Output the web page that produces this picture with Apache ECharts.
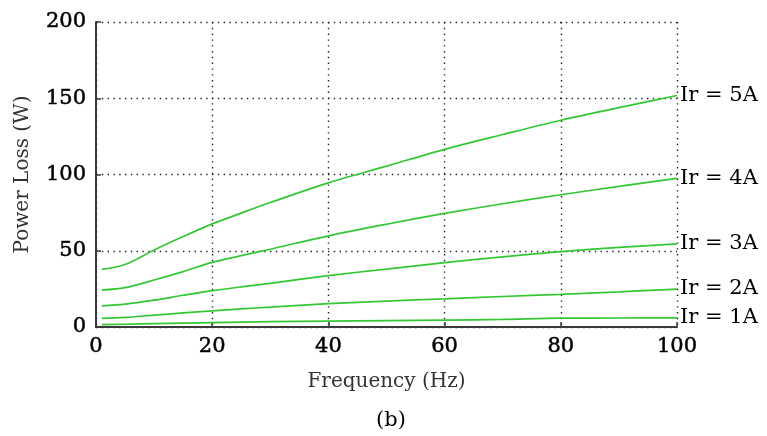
<!DOCTYPE html>
<html>
<head>
<meta charset="utf-8">
<script src="https://cdn.jsdelivr.net/npm/echarts@6/dist/echarts.min.js"></script>
<style>
html,body{margin:0;padding:0;background:#fff;}
#chart{width:767px;height:436px;}
</style>
</head>
<body>
<div id="chart"></div>
<script>
// Frequency (Hz)
const freq = [1, 5, 10, 15, 20, 25, 30, 40, 50, 60, 70, 80, 90, 100];
// Power loss (W) per rotor current
const loss5A = [37.8, 41.0, 50.5, 59.3, 67.6, 74.7, 81.6, 94.5, 105.5, 116.5, 126.2, 135.6, 143.8, 151.8];
const loss4A = [24.2, 25.8, 30.8, 36.3, 42.4, 46.8, 51.0, 59.8, 67.4, 74.5, 80.8, 86.7, 92.2, 97.4];
const loss3A = [13.9, 15.0, 17.6, 20.8, 23.8, 26.3, 28.6, 33.7, 38.0, 42.2, 46.0, 49.4, 52.2, 54.5];
const loss2A = [5.6, 6.3, 7.8, 9.2, 10.6, 11.9, 13.0, 15.3, 17.0, 18.5, 20.0, 21.4, 23.0, 24.9];
const loss1A = [1.6, 1.8, 2.2, 2.6, 2.9, 3.2, 3.5, 3.9, 4.2, 4.5, 5.0, 5.8, 5.9, 6.0];
const seriesNames = ['Ir = 5A', 'Ir = 4A', 'Ir = 3A', 'Ir = 2A', 'Ir = 1A'];
const seriesValues = [loss5A, loss4A, loss3A, loss2A, loss1A];
const xTicks = [0, 20, 40, 60, 80, 100];
const yTicks = [0, 50, 100, 150, 200];

const FONT = 'DejaVu Serif';
const chart = echarts.init(document.getElementById('chart'));
const series = seriesNames.map((name, i) => ({
  name: name,
  type: 'line',
  data: freq.map((f, j) => [f, seriesValues[i][j]]),
  showSymbol: false,
  smooth: 0.3,
  lineStyle: {color: '#33c833', width: 1.7},
  itemStyle: {color: '#33c833'},
  endLabel: {
    show: true,
    formatter: name,
    color: '#000',
    fontFamily: FONT,
    fontSize: 21,
    distance: 3
  },
  emphasis: {disabled: true},
  z: 3
}));

chart.setOption({
  animation: false,
  backgroundColor: '#fff',
  grid: {left: 96, right: 90, top: 22, bottom: 109, containLabel: false},
  xAxis: {
    type: 'value',
    min: xTicks[0],
    max: xTicks[xTicks.length - 1],
    interval: 20,
    name: 'Frequency (Hz)',
    nameLocation: 'middle',
    nameGap: 45,
    nameTextStyle: {fontFamily: FONT, fontSize: 20, color: '#333'},
    axisLine: {show: true, onZero: false, lineStyle: {color: '#3a3a3a', width: 2}},
    axisTick: {show: true, inside: true, length: 5, lineStyle: {color: '#3a3a3a', width: 1.5}},
    axisLabel: {fontFamily: FONT, fontSize: 21, color: '#000', margin: 9, textBorderColor: '#000', textBorderWidth: 0.5},
    splitLine: {show: true, lineStyle: {color: '#222', width: 1.4, type: [1.4, 4.4]}}
  },
  yAxis: {
    type: 'value',
    min: yTicks[0],
    max: yTicks[yTicks.length - 1],
    interval: 50,
    name: 'Power Loss (W)',
    nameLocation: 'middle',
    nameGap: 63,
    nameTextStyle: {fontFamily: FONT, fontSize: 20, color: '#333'},
    axisLine: {show: true, lineStyle: {color: '#3a3a3a', width: 2}},
    axisTick: {show: true, inside: true, length: 5, lineStyle: {color: '#3a3a3a', width: 1.5}},
    axisLabel: {fontFamily: FONT, fontSize: 21, color: '#000', margin: 10, textBorderColor: '#000', textBorderWidth: 0.5},
    splitLine: {show: true, lineStyle: {color: '#222', width: 1.4, type: [1.4, 4.4]}}
  },
  graphic: [{
    type: 'text',
    left: 376,
    top: 410,
    style: {text: '(b)', fontFamily: FONT, fontSize: 21, fill: '#000'}
  }],
  series: series
});
</script>
</body>
</html>
